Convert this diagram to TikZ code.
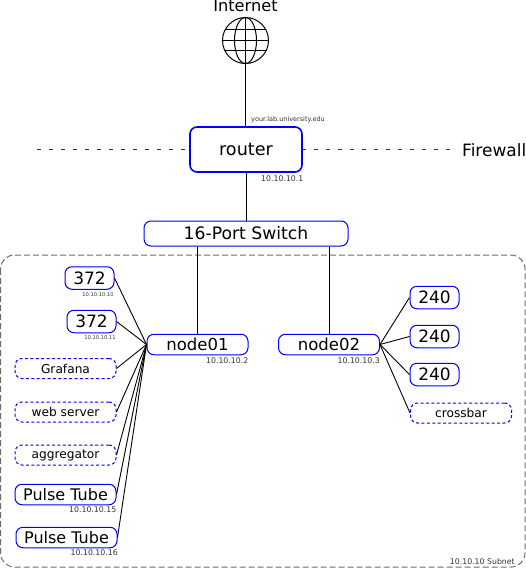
\documentclass[tikz,border=0pt]{standalone}
\usepackage{fontspec}
\setmainfont{DejaVu Sans}
\tikzset{
    hostbox/.style={draw=blue,line width=1pt,rounded corners=7pt,fill=white,inner sep=0pt},
    svcbox/.style={hostbox,dash pattern=on 3pt off 2.4pt,minimum width=101pt,minimum height=20pt,font=\fontsize{12.2}{14}\selectfont},
    gpubox/.style={hostbox,minimum width=49pt,minimum height=22.5pt,font=\fontsize{17}{18}\selectfont},
    pcbox/.style={hostbox,minimum width=101pt,minimum height=20.5pt},
    addr/.style={inner sep=0pt,text=black!80,font=\fontsize{7.8}{9}\selectfont},
    tinyaddr/.style={inner sep=0pt,text=black!80,font=\fontsize{5.2}{6}\selectfont},
    link/.style={line width=0.9pt},
    wall/.style={dash pattern=on 4.3pt off 7.7pt,line width=0.9pt,black!80},
}
\begin{document}
\begin{tikzpicture}[x=1pt,y=-1pt]

    \useasboundingbox (0,0) rectangle (526,568);

    \draw[gray!85!black,line width=1pt,dash pattern=on 6pt off 3pt,rounded corners=14pt] (0.5,255) rectangle (525,567);
    \node[addr,anchor=east] (subnet) at (515,561.5) {10.10.10 Subnet};

    % internet
    \node[inner sep=0pt,font=\fontsize{16.2}{18}\selectfont] (internet) at (245.5,6) {Internet};
    \node[circle,draw,line width=1pt,minimum size=46pt,inner sep=0pt] (globe) at (245.5,40.5) {};
    \begin{scope}
        \clip (245.5,40.5) circle (23);
        \draw[line width=1pt] (245.5,40.5) ellipse (11 and 23);
        \draw[line width=1pt] (245.5,17) -- (245.5,64);
        \foreach \y in {29.5,40.5,50.5}
            \draw[line width=1pt] (222,\y) -- (269,\y);
    \end{scope}

    % firewall and router
    \node[hostbox,line width=1.6pt,minimum width=112pt,minimum height=45pt,font=\fontsize{17.6}{20}\selectfont] (router) at (246,149.5) {router};
    \node[inner sep=0pt,anchor=west,font=\fontsize{17}{18}\selectfont] (firewall) at (462,150) {Firewall};
    \coordinate (fwleft) at (37,149.5);
    \coordinate (fwright) at (450,149.5);
    \draw[wall] (fwleft) -- (router.west);
    \draw[wall] (fwright) -- (router.east);
    \draw[link] (globe.south) -- (globe.south |- router.north);
    \node[tinyaddr,anchor=west,font=\fontsize{6.5}{7}\selectfont] (wan) at (251,120) {your.lab.university.edu};
    \node[addr,anchor=west] (lan) at (261,179) {10.10.10.1};

    \node[hostbox,minimum width=204pt,minimum height=25pt,font=\fontsize{17.2}{18}\selectfont] (switch) at (246,233.5) {16-Port Switch};

    \node[pcbox,font=\fontsize{16.5}{18}\selectfont] (node01) at (197.5,344.5) {node01};
    \node[pcbox,font=\fontsize{16.5}{18}\selectfont] (node02) at (329,344.5) {node02};
    \node[addr,anchor=east] (addra) at (248.5,360.5) {10.10.10.2};
    \node[addr,anchor=east] (addrb) at (380,360.5) {10.10.10.3};

    % node01 side
    \node[gpubox] (gpua) at (89.5,278) {372};
    \node[gpubox] (gpub) at (91.5,321.5) {372};
    \node[svcbox] (grafana) at (65.5,368.5) {Grafana};
    \node[svcbox] (web) at (65.5,412) {web server};
    \node[svcbox] (aggr) at (65.5,455) {aggregator};
    \node[pcbox,font=\fontsize{16}{18}\selectfont] (pta) at (65.5,494.5) {Pulse Tube};
    \node[pcbox,font=\fontsize{16}{18}\selectfont] (ptb) at (66.5,537.5) {Pulse Tube};
    \node[tinyaddr,anchor=east] (addrc) at (114,294.5) {10.10.10.10};
    \node[tinyaddr,anchor=east] (addrd) at (116,337.5) {10.10.10.11};
    \node[addr,anchor=east] (addre) at (116.5,510) {10.10.10.15};
    \node[addr,anchor=east] (addrf) at (118,553) {10.10.10.16};

    % node02 side
    \node[gpubox] (gpuc) at (434.5,297.5) {240};
    \node[gpubox] (gpud) at (434.5,336.5) {240};
    \node[gpubox] (gpue) at (434.5,374.5) {240};
    \node[svcbox] (crossbar) at (461,413) {crossbar};

    \draw[link] (router) -- (switch);
    \draw[link] (switch.south -| node01.north) -- (node01.north);
    \draw[link] (switch.south -| node02.north) -- (node02.north);

    \foreach \n in {gpua,gpub,grafana,web,aggr,pta,ptb}
        \draw[link] (\n.east) -- (node01.west);
    \foreach \n in {gpuc,gpud,gpue,crossbar}
        \draw[link] (node02.east) -- (\n.west);

\end{tikzpicture}
\end{document}
